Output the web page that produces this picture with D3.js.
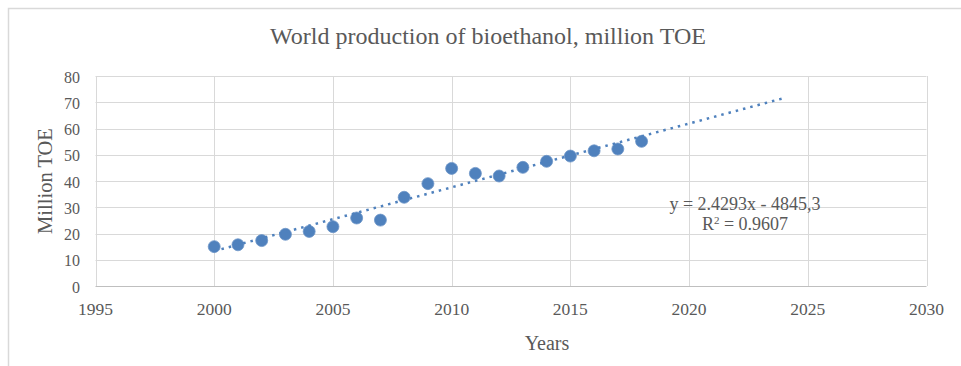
<!DOCTYPE html>
<html>
<head>
<meta charset="utf-8">
<script src="https://cdn.jsdelivr.net/npm/d3@7"></script>
<style>
  body { margin: 0; background: #fff; }
  text { font-family: "Liberation Serif", "Times New Roman", serif; fill: #595959; }
</style>
</head>
<body>
<svg width="961" height="366"></svg>
<script>
// data
const years = [2000, 2001, 2002, 2003, 2004, 2005, 2006, 2007, 2008, 2009,
  2010, 2011, 2012, 2013, 2014, 2015, 2016, 2017, 2018];
const production = [15.0, 15.7, 17.3, 19.7, 20.8, 22.6, 25.9, 25.1, 33.8, 39.0,
  44.8, 42.9, 41.9, 45.2, 47.5, 49.5, 51.5, 52.2, 55.1];
const xTicks = [1995, 2000, 2005, 2010, 2015, 2020, 2025, 2030];
const yTicks = [0, 10, 20, 30, 40, 50, 60, 70, 80];
// trendline as printed on the chart
const slope = 2.4293, intercept = -4845.3;
const trendYears = [2000, 2024];

const svg = d3.select("svg");

// outer chart frame (cut off at right / bottom)
svg.append("rect")
  .attr("x", 8.5).attr("y", 8.5)
  .attr("width", 1000).attr("height", 400)
  .attr("fill", "none")
  .attr("stroke", "#d9d9d9")
  .attr("stroke-width", 1.5);

const x = d3.scaleLinear().domain([1995, 2030]).range([95.5, 926.5]);
const y = d3.scaleLinear().domain([0, 80]).range([286, 76]);

// grid
svg.append("g").selectAll("line")
  .data(yTicks.slice(1))
  .join("line")
  .attr("x1", x(1995)).attr("x2", x(2030))
  .attr("y1", d => Math.round(y(d)) + 0.5).attr("y2", d => Math.round(y(d)) + 0.5)
  .attr("stroke", "#d9d9d9").attr("stroke-width", 1);

svg.append("g").selectAll("line")
  .data(xTicks)
  .join("line")
  .attr("x1", d => Math.round(x(d)) + 0.5).attr("x2", d => Math.round(x(d)) + 0.5)
  .attr("y1", y(80)).attr("y2", y(0))
  .attr("stroke", "#d9d9d9").attr("stroke-width", 1);

// x axis baseline
svg.append("line")
  .attr("x1", x(1995)).attr("x2", x(2030))
  .attr("y1", Math.round(y(0)) + 0.5).attr("y2", Math.round(y(0)) + 0.5)
  .attr("stroke", "#bfbfbf").attr("stroke-width", 1);

// tick labels
svg.append("g").selectAll("text")
  .data(yTicks)
  .join("text")
  .attr("x", 80)
  .attr("y", d => y(d) + 6.5)
  .attr("text-anchor", "end")
  .attr("font-size", 16)
  .text(d => d);

svg.append("g").selectAll("text")
  .data(xTicks)
  .join("text")
  .attr("x", d => x(d))
  .attr("y", 315)
  .attr("text-anchor", "middle")
  .attr("font-size", 17.5)
  .text(d => d);

// titles
svg.append("text")
  .attr("x", 488).attr("y", 44)
  .attr("text-anchor", "middle")
  .attr("font-size", 24)
  .text("World production of bioethanol, million TOE");

svg.append("text")
  .attr("transform", "translate(52,181) rotate(-90)")
  .attr("text-anchor", "middle")
  .attr("font-size", 20.5)
  .text("Million TOE");

svg.append("text")
  .attr("x", 547).attr("y", 350)
  .attr("text-anchor", "middle")
  .attr("font-size", 20)
  .text("Years");

// points
svg.append("g").selectAll("circle")
  .data(years.map((yr, i) => [yr, production[i]]))
  .join("circle")
  .attr("cx", d => x(d[0]))
  .attr("cy", d => y(d[1]))
  .attr("r", 6)
  .attr("fill", "#4f81bd")
  .attr("stroke", "#6d95c8")
  .attr("stroke-width", 0.8);

// trendline
svg.append("path")
  .attr("d", d3.line().x(d => x(d)).y(d => y(slope * d + intercept))(trendYears))
  .attr("fill", "none")
  .attr("stroke", "#4f81bd")
  .attr("stroke-width", 2.5)
  .attr("stroke-dasharray", "2.5,5");

// equation label
svg.append("text")
  .attr("x", 745).attr("y", 210)
  .attr("text-anchor", "middle")
  .attr("font-size", 18)
  .text("y = 2.4293x - 4845,3");

const r2 = svg.append("text")
  .attr("x", 745).attr("y", 230)
  .attr("text-anchor", "middle")
  .attr("font-size", 18);
r2.append("tspan").text("R");
r2.append("tspan").attr("font-size", 11).attr("dy", -6).text("2");
r2.append("tspan").attr("dy", 6).text(" = 0.9607");
</script>
</body>
</html>
